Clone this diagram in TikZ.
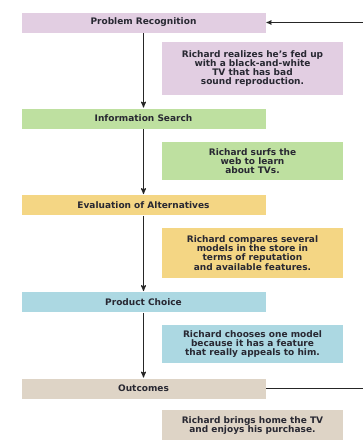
\documentclass[tikz,border=0pt]{standalone}
\usepackage{fontspec}
\setmainfont{DejaVu Sans}
\usetikzlibrary{arrows}

\definecolor{recogfill}{RGB}{226,206,226}
\definecolor{searchfill}{RGB}{190,224,160}
\definecolor{evalfill}{RGB}{244,214,132}
\definecolor{choicefill}{RGB}{172,216,226}
\definecolor{outcomefill}{RGB}{222,212,198}
\definecolor{textcol}{RGB}{40,40,50}

\begin{document}
\begin{tikzpicture}[x=1pt,y=-1pt,>=stealth',font=\bfseries\fontsize{9}{9.2}\selectfont,text=textcol]
		\tikzstyle{stage}=[rectangle, draw=white, line width=0.8pt, minimum width=245pt, minimum height=21pt, inner sep=0pt]
		\tikzstyle{note}=[rectangle, align=center, inner sep=0pt, minimum width=181pt]
		\tikzstyle{flow}=[->, line width=1.1pt, draw=black!85]

		\useasboundingbox (0,0) rectangle (363,440);

		% stages
		\node [stage, fill=recogfill] (recog) at (143.5,22.5) {Problem Recognition};
		\node [stage, fill=searchfill] (search) at (143.5,118.5) {Information Search};
		\node [stage, fill=evalfill] (eval) at (143.5,205) {Evaluation of Alternatives};
		\node [stage, fill=choicefill] (choice) at (143.5,302) {Product Choice};
		\node [stage, fill=outcomefill] (outcome) at (143.5,388.5) {Outcomes};

		% notes
		\node [note, fill=recogfill, minimum height=53pt] (recognote) at (252.5,68.5)
			{Richard realizes he's fed up\\with a black-and-white\\TV that has bad\\sound reproduction.};
		\node [note, fill=searchfill, minimum height=38pt] (searchnote) at (252.5,161)
			{Richard surfs the\\web to learn\\about TVs.};
		\node [note, fill=evalfill, minimum height=50pt] (evalnote) at (252.5,253)
			{Richard compares several\\models in the store in\\terms of reputation\\and available features.};
		\node [note, fill=choicefill, minimum height=38pt] (choicenote) at (252.5,344)
			{Richard chooses one model\\because it has a feature\\that really appeals to him.};
		\node [note, fill=outcomefill, minimum height=31pt] (outcomenote) at (252.5,425.5)
			{Richard brings home the TV\\and enjoys his purchase.};

		% flow
		\draw [flow] (recog) -- (search);
		\draw [flow] (search) -- (eval);
		\draw [flow] (eval) -- (choice);
		\draw [flow] (choice) -- (outcome);

		% feedback
		\coordinate (backout) at (363,388.5);
		\coordinate (backin) at (363,22.5);
		\draw [line width=0.9pt, draw=black!85] (outcome.east) -- (backout);
		\draw [flow, line width=0.9pt] (backin) -- (recog.east);
	\end{tikzpicture}
\end{document}
